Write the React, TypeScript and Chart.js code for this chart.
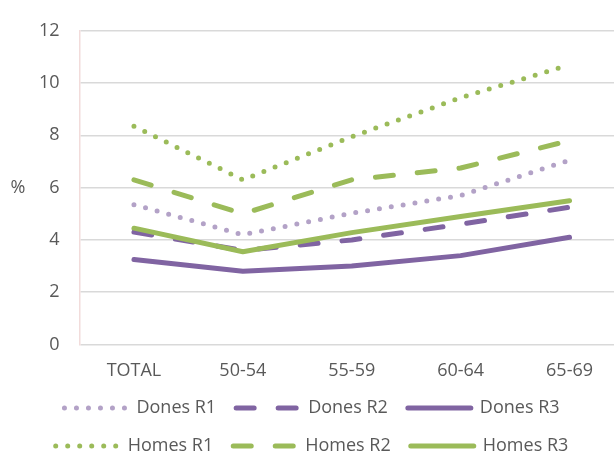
import React, { useEffect, useRef } from "react";
import { Chart, registerables } from "chart.js";

Chart.register(...registerables);

const categories = ["TOTAL", "50-54", "55-59", "60-64", "65-69"];
const donesR1 = [5.35, 4.2, 5.02, 5.7, 7.05];
const donesR2 = [4.3, 3.6, 4.0, 4.6, 5.25];
const donesR3 = [3.25, 2.8, 3.0, 3.4, 4.1];
const homesR1 = [8.35, 6.3, 7.95, 9.44, 10.7];
const homesR2 = [6.3, 5.0, 6.3, 6.75, 7.8];
const homesR3 = [4.45, 3.55, 4.28, 4.9, 5.5];
const yTicksMin = 0;
const yTicksMax = 12;
const yTicksStep = 2;

const LIGHT_PURPLE = "#b3a2c7";
const PURPLE = "#8064a2";
const GREEN = "#9bbb59";
const TEXT = "#595959";
const FONT = "'Open Sans', sans-serif";

const percentLabel = {
  id: "percentLabel",
  afterDraw(chart: any) {
    const { ctx, chartArea } = chart;
    ctx.save();
    ctx.fillStyle = TEXT;
    ctx.font = `18px ${FONT}`;
    ctx.textAlign = "center";
    ctx.textBaseline = "middle";
    ctx.fillText("%", 18, (chartArea.top + chartArea.bottom) / 2);
    ctx.restore();
  },
};

export default function App() {
  const ref = useRef<HTMLCanvasElement>(null);

  useEffect(() => {
    if (!ref.current) return;
    const dotted = [0, 12];
    const dashed = [18, 24];
    const mk = (label: string, data: number[], color: string, dash: number[], order: number) => ({
      label,
      data,
      borderColor: color,
      backgroundColor: color,
      borderWidth: 5,
      borderDash: dash,
      borderCapStyle: "round" as const,
      borderJoinStyle: "round" as const,
      pointRadius: 0,
      pointHoverRadius: 0,
      tension: 0,
      fill: false,
      order,
    });
    const chart = new Chart(ref.current, {
      type: "line",
      data: {
        labels: categories,
        datasets: [
          mk("Dones R1", donesR1, LIGHT_PURPLE, dotted, 6),
          mk("Dones R2", donesR2, PURPLE, dashed, 5),
          mk("Dones R3", donesR3, PURPLE, [], 4),
          mk("Homes R1", homesR1, GREEN, dotted, 3),
          mk("Homes R2", homesR2, GREEN, dashed, 2),
          mk("Homes R3", homesR3, GREEN, [], 1),
        ],
      },
      options: {
        animation: false,
        responsive: false,
        devicePixelRatio: 1,
        layout: { padding: { top: 25.5, left: 0, right: 0, bottom: 0 } },
        plugins: {
          tooltip: { enabled: false },
          legend: {
            position: "bottom",
            labels: {
              usePointStyle: true,
              pointStyle: "line",
              pointStyleWidth: 63,
              boxHeight: 18,
              padding: 20,
              color: TEXT,
              font: { family: FONT, size: 18 },
              sort: (a: any, b: any) => a.datasetIndex - b.datasetIndex,
              generateLabels: (c: any) => {
                const items = Chart.defaults.plugins.legend.labels.generateLabels(c);
                return items.map((it: any) => {
                  const ds = c.data.datasets[it.datasetIndex];
                  return {
                    ...it,
                    strokeStyle: ds.borderColor,
                    fillStyle: ds.borderColor,
                    lineDash: ds.borderDash,
                    lineDashOffset: 0,
                    lineCap: "round",
                    lineWidth: ds.borderWidth,
                    pointStyle: "line",
                  };
                });
              },
            },
          },
        },
        scales: {
          x: {
            type: "category",
            offset: true,
            grid: { display: false, drawTicks: false, offset: true },
            border: { display: false },
            ticks: { color: TEXT, font: { family: FONT, size: 18 }, padding: 16, maxRotation: 0 },
            afterFit: (s: any) => {
              s.height = 34.5;
            },
          },
          y: {
            min: yTicksMin,
            max: yTicksMax,
            ticks: { stepSize: yTicksStep, color: TEXT, font: { family: FONT, size: 18 }, padding: 20 },
            grid: { color: "#d9d9d9", lineWidth: 1.5, drawTicks: false },
            border: { display: true, color: "#f2dcdb", width: 1.5 },
            afterFit: (s: any) => {
              s.width = 79.5;
            },
          },
        },
      },
      plugins: [percentLabel],
    } as any);
    return () => chart.destroy();
  }, []);

  return (
    <div
      style={{
        position: "fixed",
        left: 0,
        top: 0,
        width: 614,
        height: 455,
        overflow: "hidden",
        background: "#fff",
      }}
    >
      <canvas ref={ref} width={624} height={465} style={{ display: "block" }} />
    </div>
  );
}
